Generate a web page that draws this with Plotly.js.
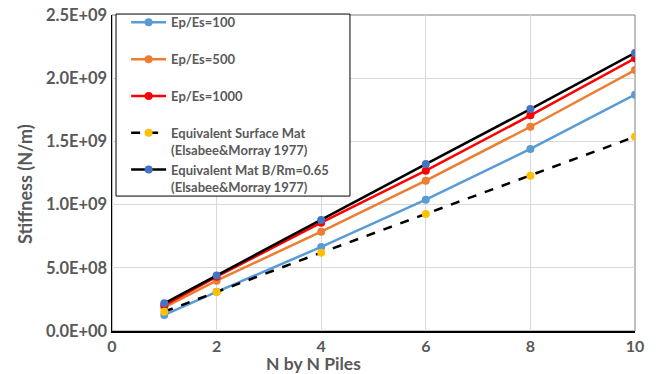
<!DOCTYPE html>
<html>
<head>
<meta charset="utf-8">
<script src="https://cdn.plot.ly/plotly-3.0.1.min.js"></script>
<style>html,body{margin:0;padding:0;background:#fff;}#chart{width:656px;height:374px;}</style>
</head>
<body>
<div id="chart"></div>
<script>
var nPiles = [1, 2, 4, 6, 8, 10];
var ep100 = [0.127e9, 0.310e9, 0.665e9, 1.039e9, 1.440e9, 1.870e9];
var ep500 = [0.187e9, 0.398e9, 0.786e9, 1.189e9, 1.616e9, 2.065e9];
var ep1000 = [0.203e9, 0.430e9, 0.857e9, 1.268e9, 1.706e9, 2.157e9];
var surfaceMat = [0.153e9, 0.309e9, 0.620e9, 0.926e9, 1.229e9, 1.537e9];
var equivMat = [0.219e9, 0.440e9, 0.878e9, 1.321e9, 1.756e9, 2.200e9];
var seriesNames = ['Ep/Es=100<br> ', 'Ep/Es=500<br> ', 'Ep/Es=1000<br> ',
  'Equivalent Surface Mat<br>(Elsabee&Morray 1977)',
  'Equivalent Mat B/Rm=0.65<br>(Elsabee&Morray 1977)'];
var yTickVals = [0, 0.5e9, 1.0e9, 1.5e9, 2.0e9, 2.5e9];
var yTickText = ['0.0E+00', '5.0E+08', '1.0E+09', '1.5E+09', '2.0E+09', '2.5E+09'];
var xTickVals = [0, 2, 4, 6, 8, 10];
var xTitle = 'N by N Piles';
var yTitle = 'Stiffness (N/m)';

var FONT = 'Lato, "Open Sans", sans-serif';
var GRAY = '#595959';

function tr(y, name, lineColor, markerColor, dash) {
  return {
    x: nPiles, y: y, name: name, type: 'scatter', mode: 'lines+markers',
    line: {color: lineColor, width: 2.5, dash: dash},
    marker: {color: markerColor, size: 8}
  };
}
var data = [
  tr(ep100, seriesNames[0], '#5B9BD5', '#5B9BD5', 'solid'),
  tr(ep500, seriesNames[1], '#ED7D31', '#ED7D31', 'solid'),
  tr(ep1000, seriesNames[2], '#FF0000', '#FF0000', 'solid'),
  tr(surfaceMat, seriesNames[3], '#000000', '#FFC000', 'dash'),
  tr(equivMat, seriesNames[4], '#000000', '#4472C4', 'solid')
];

var layout = {
  width: 656, height: 374,
  margin: {l: 112, r: 21, t: 15, b: 43, autoexpand: false},
  paper_bgcolor: '#fff', plot_bgcolor: '#fff',
  font: {family: FONT, color: GRAY},
  xaxis: {
    range: [0, 10], tickvals: xTickVals, ticktext: xTickVals.map(String),
    showgrid: true, gridcolor: '#d9d9d9', gridwidth: 1,
    showline: true, linecolor: '#000', linewidth: 1.5,
    zeroline: false, ticks: '',
    tickfont: {family: FONT, size: 16, color: GRAY, weight: 'bold'}
  },
  yaxis: {
    range: [0, 2.5e9], tickvals: yTickVals, ticktext: yTickText,
    showgrid: true, gridcolor: '#d9d9d9', gridwidth: 1,
    showline: true, linecolor: '#000', linewidth: 1.5,
    zeroline: false, ticks: '',
    tickfont: {family: FONT, size: 16.5, color: GRAY, weight: 'bold'}
  },
  shapes: [
    {type: 'rect', xref: 'paper', yref: 'paper', x0: 0, x1: 1, y0: 0, y1: 1,
     line: {color: '#808080', width: 1}, layer: 'below'},
    {type: 'rect', xref: 'paper', yref: 'paper', x0: 0.0077, x1: 0.455, y0: 0.427, y1: 1.003,
     line: {color: '#000', width: 1}, fillcolor: '#fff', layer: 'above'}
  ],
  annotations: [
    {text: xTitle, xref: 'paper', yref: 'paper', x: 0.386, y: -0.1044, xanchor: 'center', yanchor: 'middle',
     showarrow: false, font: {family: FONT, size: 17.5, color: GRAY, weight: 'bold'}},
    {text: yTitle, xref: 'paper', yref: 'paper', x: -0.165, y: 0.464, xanchor: 'center', yanchor: 'middle',
     textangle: -90, showarrow: false, font: {family: FONT, size: 18, color: GRAY, weight: 'bold'}}
  ],
  legend: {
    x: 0.027, y: 1.024, xanchor: 'left', yanchor: 'top',
    bgcolor: 'rgba(0,0,0,0)', borderwidth: 0, maxheight: 330,
    font: {family: FONT, size: 13, color: GRAY, weight: 'bold'},
    valign: 'top', itemwidth: 35
  },
  showlegend: true
};
Plotly.newPlot('chart', data, layout, {displayModeBar: false, staticPlot: true});
</script>
</body>
</html>
